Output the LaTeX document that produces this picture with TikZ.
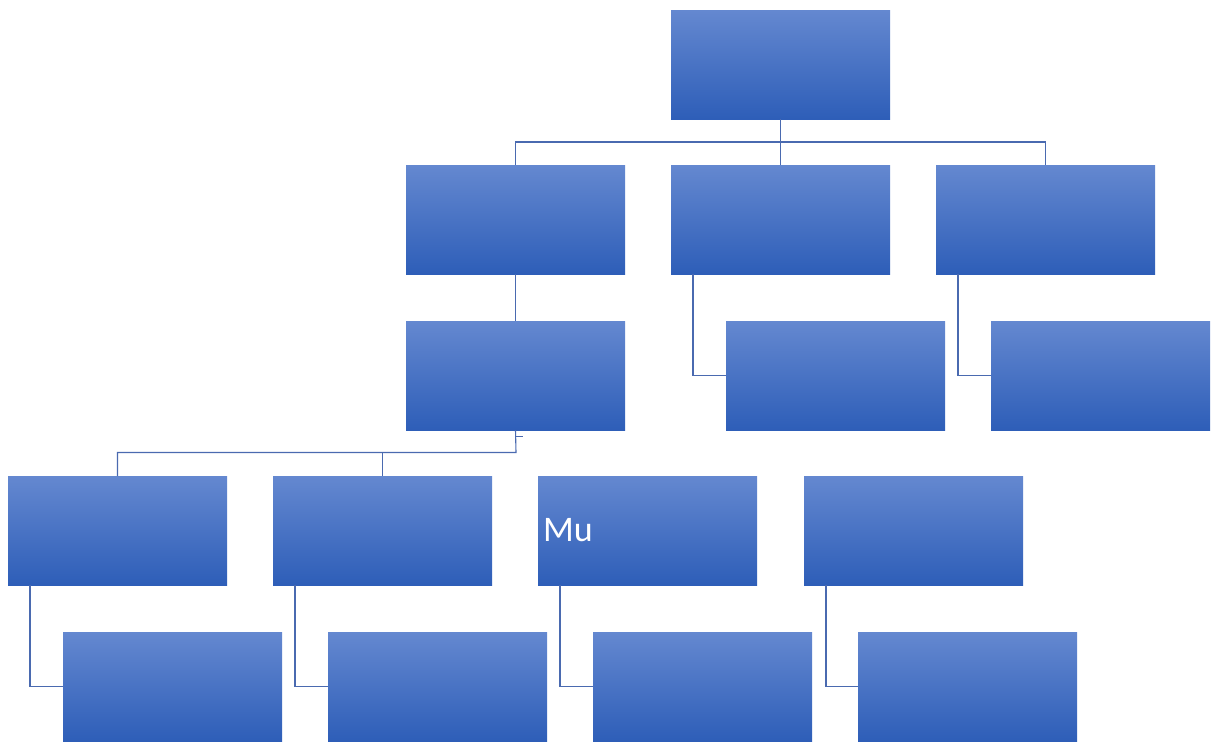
\documentclass[tikz,border=0pt]{standalone}
\usepackage{fontspec}
\setmainfont{Carlito}
\definecolor{boxtop}{RGB}{100,136,208}
\definecolor{boxmid}{RGB}{68,114,198}
\definecolor{boxbot}{RGB}{46,94,184}
\definecolor{linec}{RGB}{74,106,176}
\tikzset{
  orgbox/.style={minimum width=219pt, minimum height=109pt, inner sep=0pt, outer sep=0pt,
    top color=boxtop, middle color=boxmid, bottom color=boxbot, draw=none},
  conn/.style={draw=linec, line width=1.1pt}
}
\begin{document}
\begin{tikzpicture}[x=1pt,y=-1pt]
\useasboundingbox (0,0) rectangle (1220,742);
% boxes (centres)
\node[orgbox] (root) at (780.5,64.5) {};
\node[orgbox] (a) at (515.5,219.5) {};
\node[orgbox] (b) at (780.5,219.5) {};
\node[orgbox] (c) at (1045.5,219.5) {};
\node[orgbox] (ac) at (515.5,375.5) {};
\node[orgbox] (bc) at (835.5,375.5) {};
\node[orgbox] (cc) at (1100.5,375.5) {};
\node[orgbox] (d1) at (117.5,530.5) {};
\node[orgbox] (d2) at (382.5,530.5) {};
\node[orgbox] (d3) at (647.5,530.5) {};
\node[orgbox] (d4) at (913.5,530.5) {};
\node[orgbox] (e1) at (172.5,686.5) {};
\node[orgbox] (e2) at (437.5,686.5) {};
\node[orgbox] (e3) at (702.5,686.5) {};
\node[orgbox] (e4) at (967.5,686.5) {};
\node[anchor=west, inner sep=0pt, text=white, font=\fontsize{36}{40}\selectfont] (mu) at (543,530) {Mu};
% connectors
\coordinate (hr) at (780.5,142);
\draw[conn] (root.south) -- (hr);
\draw[conn] (a.north) -- (a.north |- hr) -- (c.north |- hr) -- (c.north);
\draw[conn] (hr) -- (b.north);
\draw[conn] (a.south) -- (ac.north);
\draw[conn] ([xshift=22pt]b.south west) |- (bc.west);
\draw[conn] ([xshift=22pt]c.south west) |- (cc.west);
\coordinate (hl) at (516,452.5);
\coordinate (tick) at (522.5,436.5);
\draw[conn] (ac.south) -- (hl) -- (d1.north |- hl) -- (d1.north);
\draw[conn] (d2.north |- hl) -- (d2.north);
\draw[conn] (516,436.5) -- (tick);
\draw[conn] ([xshift=22pt]d1.south west) |- (e1.west);
\draw[conn] ([xshift=22pt]d2.south west) |- (e2.west);
\draw[conn] ([xshift=22pt]d3.south west) |- (e3.west);
\draw[conn] ([xshift=22pt]d4.south west) |- (e4.west);
\end{tikzpicture}
\end{document}
